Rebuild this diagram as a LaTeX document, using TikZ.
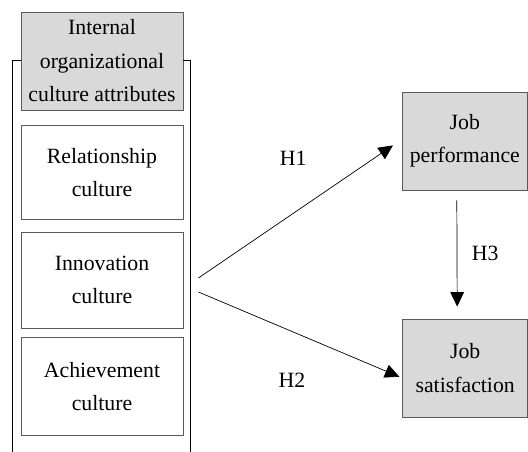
\documentclass[tikz,border=0pt]{standalone}
\usepackage{fontspec}
\setmainfont{Liberation Serif}
\usepackage{xcolor}
\usepackage{tikz}
\usetikzlibrary{arrows.meta,positioning,calc}
\definecolor{boxF}{HTML}{D9D9D9}
\definecolor{boxB}{HTML}{5A5A5A}

\begin{document}
\begin{tikzpicture}[x=1cm,y=1cm,
  txt/.style={font=\rmfamily\fontsize{15.5}{23.8}\selectfont},
  attr/.style={txt, draw=boxB, line width=0.6pt, minimum width=4.05cm,
    align=center, inner sep=0pt},
  outc/.style={attr, fill=boxF, minimum width=3.13cm, minimum height=2.45cm},
  arr/.style={-{Triangle[length=0.36cm,width=0.34cm]}, line width=0.5pt},
  ]
\useasboundingbox (0,0) rectangle (13.2,11.3);

% === attribute column
\node[attr, fill=boxF, minimum height=2.45cm] (head) at (2.55,9.775)
  {Internal\\organizational\\culture attributes};
\node[attr, minimum height=2.33cm] (rel) at (2.55,6.99) {Relationship\\culture};
\node[attr, minimum height=2.40cm] (innov) at (2.55,4.30) {Innovation\\culture};
\node[attr, minimum height=2.43cm] (achv) at (2.55,1.64) {Achievement\\culture};

% === frame round the column
\draw[line width=0.5pt] (head.west |- 0,9.8) -- (0.3,9.8) -- (0.3,0);
\draw[line width=0.5pt] (head.east |- 0,9.8) -- (4.77,9.8) -- (4.77,0);

% === outcomes
\node[outc] (perf) at (11.62,7.775) {Job\\performance};
\node[outc] (sat) at (11.63,2.10) {Job\\satisfaction};

% === hypotheses
\draw[arr] ($(innov.east)+(0.375,0.05)$) -- ($(perf.west)+(-0.22,-0.11)$);
\draw[arr] ($(innov.east)+(0.375,-0.30)$) -- ($(sat.west)+(-0.07,-0.22)$);
\draw[arr] ($(perf.south)+(-0.2,-0.25)$) -- ($(sat.north)+(-0.2,0.30)$);
\node[txt] (h1) at (7.33,7.35) {H1};
\node[txt] (h2) at (7.30,1.80) {H2};
\node[txt] (h3) at (12.13,4.97) {H3};

\end{tikzpicture}
\end{document}
